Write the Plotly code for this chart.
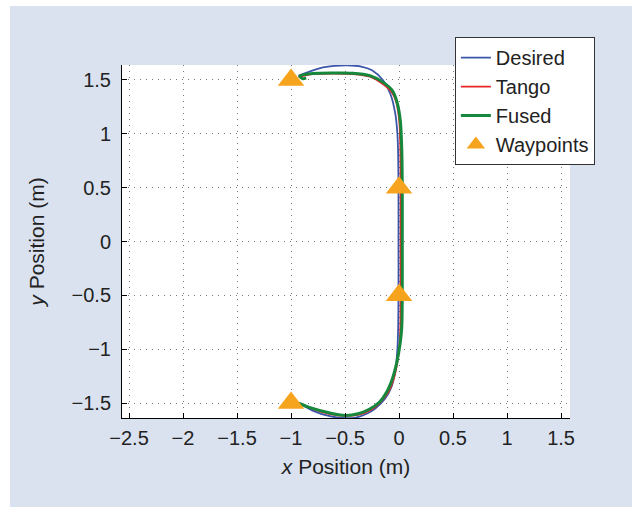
import plotly.graph_objects as go

# Desired trajectory (m)
desired_x = [-0.93, -0.80, -0.65, -0.50, -0.40, -0.30, -0.22, -0.13, -0.07, -0.035, -0.015, -0.008, -0.005,
             -0.005, -0.005, -0.008, -0.015, -0.035, -0.08, -0.15, -0.25, -0.35, -0.48, -0.60, -0.73, -0.93]
desired_y = [-1.50, -1.57, -1.62, -1.64, -1.635, -1.60, -1.55, -1.46, -1.35, -1.20, -1.00, -0.80, -0.50,
             0.00, 0.50, 0.80, 1.00, 1.19, 1.37, 1.50, 1.59, 1.625, 1.635, 1.63, 1.61, 1.54]

# Tango estimate (m)
tango_x = [-0.93, -0.80, -0.65, -0.50, -0.38, -0.27, -0.18, -0.10, -0.05, -0.015, 0.005, 0.012, 0.015,
           0.015, 0.015, 0.012, 0.003, -0.025, -0.07, -0.16, -0.27, -0.43, -0.60, -0.80, -0.93]
tango_y = [-1.50, -1.555, -1.60, -1.62, -1.61, -1.57, -1.50, -1.40, -1.28, -1.12, -0.95, -0.80, -0.50,
           0.00, 0.50, 0.87, 1.11, 1.29, 1.39, 1.47, 1.53, 1.555, 1.56, 1.555, 1.53]

# Fused estimate (m)
fused_x = [-0.93, -0.80, -0.65, -0.50, -0.38, -0.28, -0.18, -0.11, -0.06, -0.02, 0.01, 0.025, 0.03,
           0.03, 0.03, 0.025, 0.012, -0.02, -0.06, -0.15, -0.27, -0.43, -0.60, -0.80, -0.92, -0.89, -0.86]
fused_y = [-1.50, -1.55, -1.59, -1.615, -1.60, -1.56, -1.49, -1.39, -1.27, -1.12, -0.95, -0.80, -0.50,
           0.00, 0.50, 0.87, 1.12, 1.30, 1.40, 1.48, 1.54, 1.563, 1.565, 1.56, 1.535, 1.512, 1.52]

# Waypoints (m)
waypoint_x = [-1.0, 0.0, 0.0, -1.0]
waypoint_y = [1.5, 0.5, -0.5, -1.5]

x_ticks = [-2.5, -2, -1.5, -1, -0.5, 0, 0.5, 1, 1.5]
y_ticks = [-1.5, -1, -0.5, 0, 0.5, 1, 1.5]

BG = "#dae2f0"
FONT = "Liberation Sans, Arial, sans-serif"

fig = go.Figure()
fig.add_trace(go.Scatter(x=desired_x, y=desired_y, mode="lines", name="Desired",
                         line=dict(color="#3b55a8", width=1.8, shape="spline", smoothing=0.8)))
fig.add_trace(go.Scatter(x=tango_x, y=tango_y, mode="lines", name="Tango",
                         line=dict(color="#e8262a", width=1.8, shape="spline", smoothing=0.8)))
fig.add_trace(go.Scatter(x=fused_x, y=fused_y, mode="lines", name="Fused",
                         line=dict(color="#15883c", width=3, shape="spline", smoothing=0.8)))
fig.add_trace(go.Scatter(x=waypoint_x, y=waypoint_y, mode="markers", name="Waypoints",
                         marker=dict(symbol="triangle-up", size=23, color="#f6a31e", line=dict(width=0))))

axis_common = dict(
    showline=True, linecolor="black", linewidth=1, mirror=False,
    ticks="inside", ticklen=5, tickcolor="black",
    showgrid=True, gridcolor="#777777", griddash="1px,5px", gridwidth=1,
    zeroline=False,
    tickfont=dict(family=FONT, size=20, color="#222"),
    title_font=dict(family=FONT, size=21, color="#222"),
)

fig.update_xaxes(range=[-2.565, 1.583], tickvals=x_ticks, ticklabelstandoff=2,
                 title=dict(text="<i>x</i> Position (m)", standoff=11), **axis_common)
fig.update_yaxes(range=[-1.639, 1.639], tickvals=y_ticks, ticklabelstandoff=6,
                 title=dict(text="<i>y</i> Position (m)", standoff=21), **axis_common)

fig.update_layout(
    width=632, height=507,
    margin=dict(l=122, r=62, t=65, b=89),
    paper_bgcolor=BG, plot_bgcolor="white",
    showlegend=True,
    legend=dict(x=0.743, y=1.079, xanchor="left", yanchor="top",
                bgcolor="white", bordercolor="#333", borderwidth=1,
                font=dict(family=FONT, size=20, color="#222"),
                tracegroupgap=0, itemwidth=30),
    shapes=[
        dict(type="rect", xref="paper", yref="paper", x0=-0.2723, x1=-0.25, y0=-0.3, y1=1.2,
             fillcolor="white", line=dict(width=0), layer="above"),
        dict(type="rect", xref="paper", yref="paper", x0=-0.3, x1=1.2, y0=1.167, y1=1.2,
             fillcolor="white", line=dict(width=0), layer="above"),
    ],
)

fig.write_html("out.html")
